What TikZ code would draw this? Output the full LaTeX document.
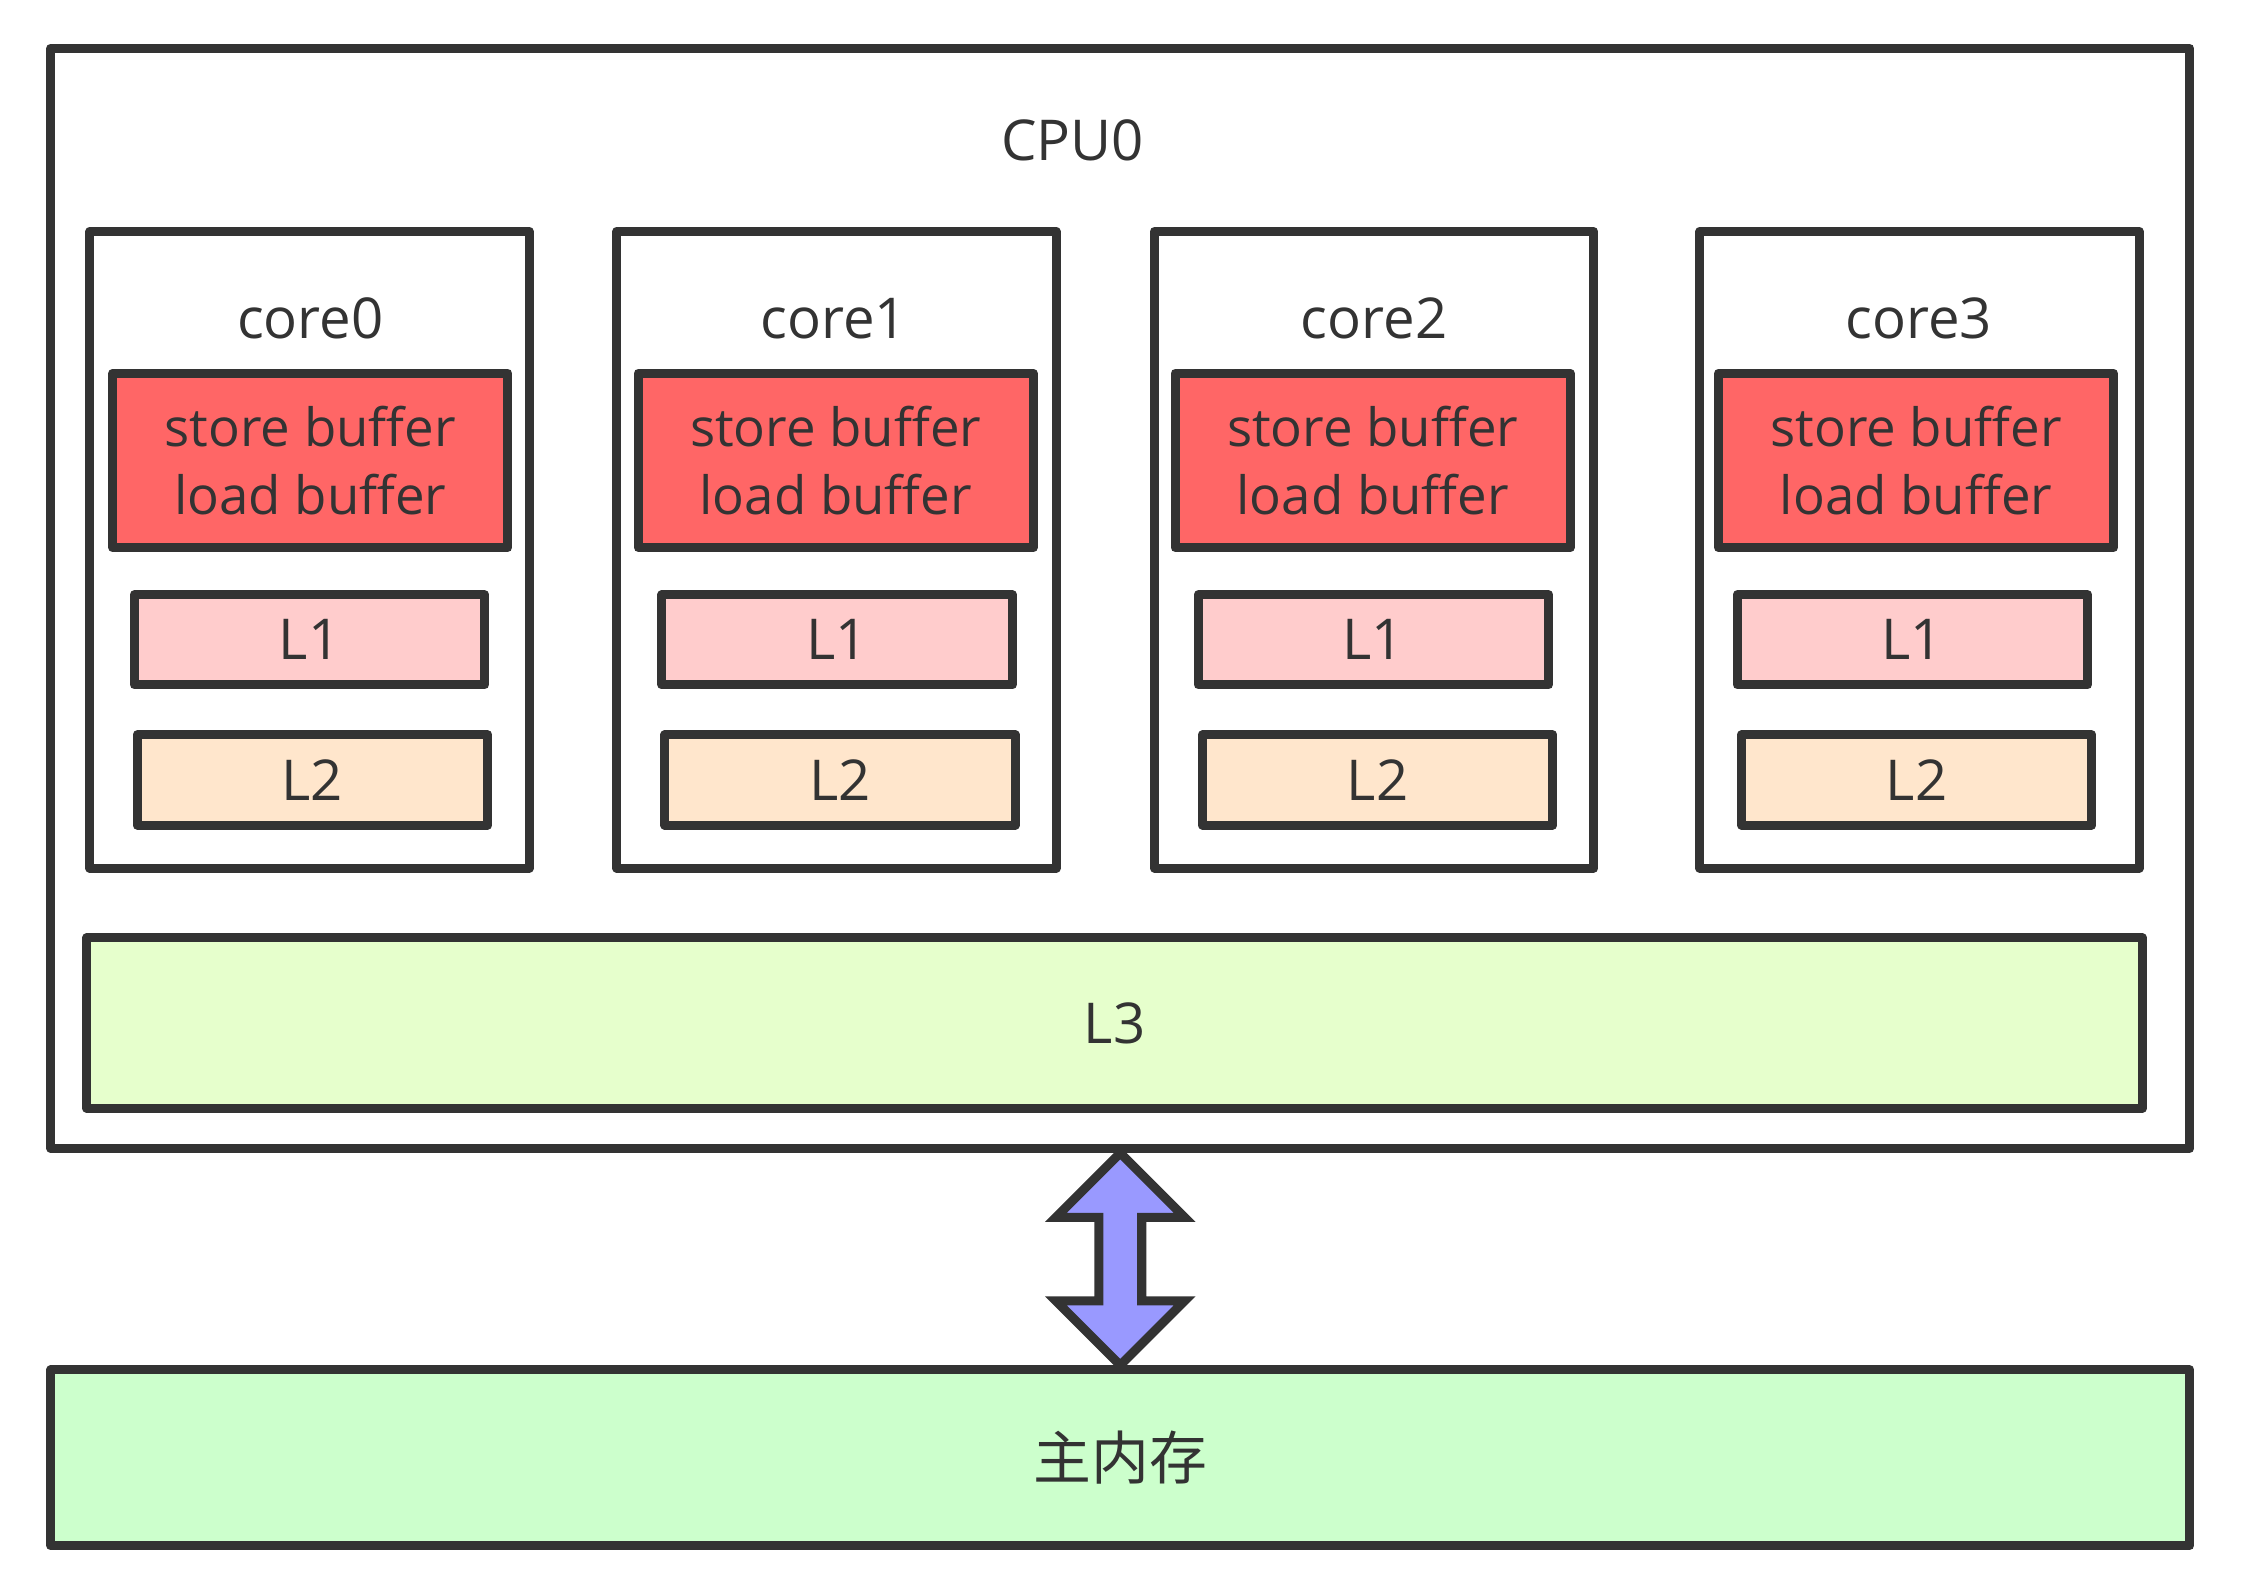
\documentclass[tikz,border=0pt]{standalone}
\usepackage{fontspec}
\setmainfont{Open Sans}
\newfontfamily\cjk{Noto Sans CJK SC}
\usetikzlibrary{calc}
\definecolor{ink}{HTML}{333333}
\definecolor{bufred}{HTML}{FF6666}
\definecolor{lonefill}{HTML}{FFCCCC}
\definecolor{ltwofill}{HTML}{FFE6CC}
\definecolor{lthreefill}{HTML}{E6FFCC}
\definecolor{memfill}{HTML}{CCFFCC}
\definecolor{busfill}{HTML}{9999FF}
\tikzstyle{box} = [draw=ink, line width=1.8pt, line join=round, rectangle, inner sep=0pt, text=ink, font={\fontsize{11.2}{13.4}\selectfont}]
\tikzstyle{core} = [box, minimum width=3.07cm, minimum height=4.45cm]
\tikzstyle{buf} = [box, fill=bufred, minimum width=2.76cm, minimum height=1.22cm, align=center, font={\fontsize{10.5}{13.4}\selectfont}]
\tikzstyle{lone} = [box, fill=lonefill, minimum width=2.45cm, minimum height=0.63cm]
\tikzstyle{ltwo} = [box, fill=ltwofill, minimum width=2.45cm, minimum height=0.63cm]
\tikzstyle{heading} = [text=ink, inner sep=0pt, anchor=base, font={\fontsize{11.2}{13.4}\selectfont}]
\tikzstyle{bus} = [draw=ink, line width=1.8pt, fill=busfill]

\begin{document}
\begin{tikzpicture}[x=0.01cm, y=-0.01cm]
    \useasboundingbox (0,0) rectangle (1568,1097);
    \node[box, minimum width=14.95cm, minimum height=7.69cm](cpu) at (783.5,418.5){};
    \node[heading](cpuname) at (750,112){CPU0};
    % four cores
    \node[core](c0) at (216.5,384.5){};
    \node[core](c1) at (585,384.5){};
    \node[core](c2) at (961,384.5){};
    \node[core](c3) at (1342.5,384.5){};
    \node[heading](t0) at (217,237){core0};
    \node[heading](t1) at (583,237){core1};
    \node[heading](t2) at (961,237){core2};
    \node[heading](t3) at (1342,237){core3};
    \node[buf](b0) at (217,322){store buffer\\load buffer};
    \node[buf](b1) at (584.5,322){store buffer\\load buffer};
    \node[buf](b2) at (960,322){store buffer\\load buffer};
    \node[buf](b3) at (1340,322){store buffer\\load buffer};
    \node[lone](a0) at (216.5,447.5){L1};
    \node[lone](a1) at (585.5,447.5){L1};
    \node[lone](a2) at (960.5,447.5){L1};
    \node[lone](a3) at (1337.5,447.5){L1};
    \node[ltwo](d0) at (218.5,545.5){L2};
    \node[ltwo](d1) at (587.5,545.5){L2};
    \node[ltwo](d2) at (963.5,545.5){L2};
    \node[ltwo](d3) at (1340.5,545.5){L2};
    \node[box, fill=lthreefill, minimum width=14.37cm, minimum height=1.19cm](l3) at (779.5,715.5){L3};
    \node[box, fill=memfill, minimum width=14.95cm, minimum height=1.23cm, font={\cjk\fontsize{11.5}{13.4}\selectfont}](mem) at (783.5,1019.5){主内存};
    \draw[bus] (cpu.south) -- ++(45,45) -- ++(-30,0) -- ($(mem.north)+(15,-45)$) -- ++(30,0)
        -- (mem.north) -- ++(-45,-45) -- ++(30,0) -- ($(cpu.south)+(-15,45)$) -- ++(-30,0) -- cycle;
\end{tikzpicture}
\end{document}
